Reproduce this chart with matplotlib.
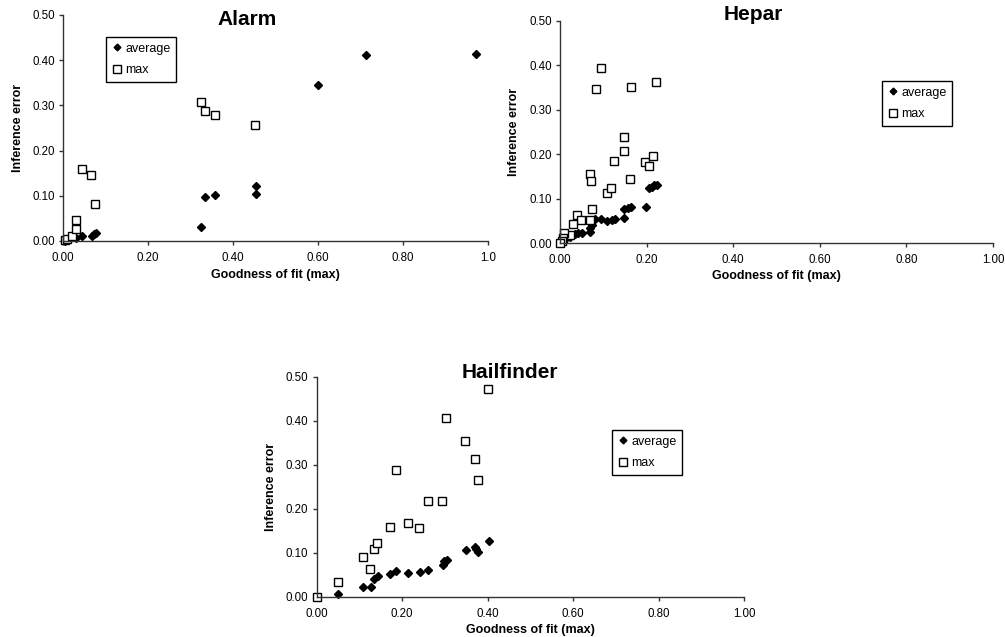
import matplotlib
matplotlib.use("Agg")
import matplotlib.pyplot as plt

plt.rcParams['font.family'] = ['Liberation Sans', 'DejaVu Sans']

# Alarm
alarm_avg_x = [0.005, 0.010, 0.031, 0.045, 0.069, 0.073, 0.077, 0.325, 0.335, 0.358, 0.453, 0.453, 0.599, 0.714, 0.971]
alarm_avg_y = [0.001, 0.003, 0.007, 0.012, 0.012, 0.015, 0.017, 0.032, 0.097, 0.102, 0.121, 0.104, 0.346, 0.412, 0.414]
alarm_max_x = [0.005, 0.010, 0.020, 0.030, 0.030, 0.045, 0.067, 0.075, 0.324, 0.334, 0.357, 0.452]
alarm_max_y = [0.002, 0.005, 0.012, 0.027, 0.046, 0.159, 0.147, 0.082, 0.307, 0.288, 0.278, 0.257]

# Hepar
hepar_avg_x = [0.000, 0.005, 0.012, 0.023, 0.035, 0.042, 0.051, 0.069, 0.069, 0.073, 0.082, 0.095,
               0.108, 0.119, 0.128, 0.149, 0.148, 0.157, 0.165, 0.198, 0.205, 0.212, 0.217, 0.223]
hepar_avg_y = [0.000, 0.004, 0.009, 0.013, 0.020, 0.022, 0.024, 0.025, 0.035, 0.041, 0.055, 0.055,
               0.050, 0.052, 0.055, 0.056, 0.076, 0.079, 0.082, 0.081, 0.124, 0.127, 0.131, 0.132]
hepar_max_x = [0.095, 0.084, 0.164, 0.222, 0.148, 0.148, 0.125, 0.069, 0.072, 0.161, 0.196, 0.205,
               0.215, 0.108, 0.118, 0.075, 0.039, 0.049, 0.069, 0.030, 0.022, 0.009, 0.008, 0.004, 0.000]
hepar_max_y = [0.394, 0.346, 0.350, 0.363, 0.239, 0.207, 0.185, 0.156, 0.140, 0.144, 0.183, 0.173,
               0.196, 0.112, 0.125, 0.078, 0.063, 0.053, 0.052, 0.043, 0.019, 0.022, 0.011, 0.006, 0.000]

# Hailfinder
hail_avg_x = [0.000, 0.051, 0.109, 0.127, 0.135, 0.143, 0.172, 0.186, 0.214, 0.242, 0.261, 0.295,
              0.298, 0.304, 0.349, 0.370, 0.374, 0.378, 0.404]
hail_avg_y = [0.000, 0.006, 0.021, 0.023, 0.041, 0.048, 0.051, 0.058, 0.053, 0.055, 0.061, 0.073,
              0.080, 0.084, 0.106, 0.112, 0.109, 0.102, 0.126]
hail_max_x = [0.000, 0.050, 0.108, 0.125, 0.133, 0.142, 0.171, 0.185, 0.213, 0.240, 0.260, 0.294,
              0.303, 0.348, 0.370, 0.377, 0.402]
hail_max_y = [0.000, 0.033, 0.090, 0.064, 0.108, 0.122, 0.159, 0.288, 0.168, 0.156, 0.217, 0.217,
              0.407, 0.353, 0.314, 0.266, 0.473]

x_ticks = [0.0, 0.2, 0.4, 0.6, 0.8, 1.0]
y_ticks = [0.0, 0.1, 0.2, 0.3, 0.4, 0.5]

fig = plt.figure(figsize=(10.05, 6.37), dpi=100)

panels = [
    # name, rect, avg x/y, max x/y, title pos, legend pos, last x label
    ('Alarm', [0.0627, 0.6217, 0.4229, 0.3548], alarm_avg_x, alarm_avg_y, alarm_max_x, alarm_max_y,
     (0.433, 0.982), (0.101, 0.903), '1.0'),
    ('Hepar', [0.5572, 0.6181, 0.4308, 0.3494], hepar_avg_x, hepar_avg_y, hepar_max_x, hepar_max_y,
     (0.446, 1.026), (0.744, 0.729), '1.00'),
    ('Hailfinder', [0.3151, 0.0633, 0.4252, 0.3454], hail_avg_x, hail_avg_y, hail_max_x, hail_max_y,
     (0.452, 1.017), (0.691, 0.758), '1.00'),
]

for name, rect, ax_, ay_, mx_, my_, tpos, lpos, last in panels:
    ax = fig.add_axes(rect)
    ax.plot(ax_, ay_, linestyle='none', marker='D', ms=3.8, color='black', clip_on=False, label='average')
    ax.plot(mx_, my_, linestyle='none', marker='s', ms=6.3, mfc='white', mec='black', mew=1.0,
            clip_on=False, label='max')
    ax.set_xlim(0, 1)
    ax.set_ylim(0, 0.5)
    ax.set_xticks(x_ticks)
    ax.set_xticklabels(['%.2f' % v for v in x_ticks[:-1]] + [last])
    ax.set_yticks(y_ticks)
    ax.set_yticklabels(['%.2f' % v for v in y_ticks])
    for s in ['top', 'right']:
        ax.spines[s].set_visible(False)
    for s in ['left', 'bottom']:
        ax.spines[s].set_color('#333333')
        ax.spines[s].set_linewidth(1.0)
    ax.tick_params(direction='out', length=3, width=1, color='#333333', labelsize=8.3, pad=3)
    ax.tick_params(axis='x', pad=5)
    ax.set_xlabel('Goodness of fit (max)', fontsize=9, fontweight='bold')
    ax.set_ylabel('Inference error', fontsize=9, fontweight='bold')
    ax.xaxis.set_label_coords(0.5, -0.122)
    ax.yaxis.set_label_coords(-0.092, 0.5)
    ax.text(tpos[0], tpos[1], name, transform=ax.transAxes, ha='center', va='center',
            fontsize=15, fontweight='bold')
    leg = ax.legend(loc='upper left', bbox_to_anchor=lpos, borderaxespad=0, fontsize=9,
                    fancybox=False, framealpha=1, edgecolor='black', handlelength=0.8,
                    handletextpad=0.3, borderpad=0.45, labelspacing=0.75, markerscale=0.9)
    leg.get_frame().set_linewidth(1.0)

fig.savefig('out.png', dpi=100)
